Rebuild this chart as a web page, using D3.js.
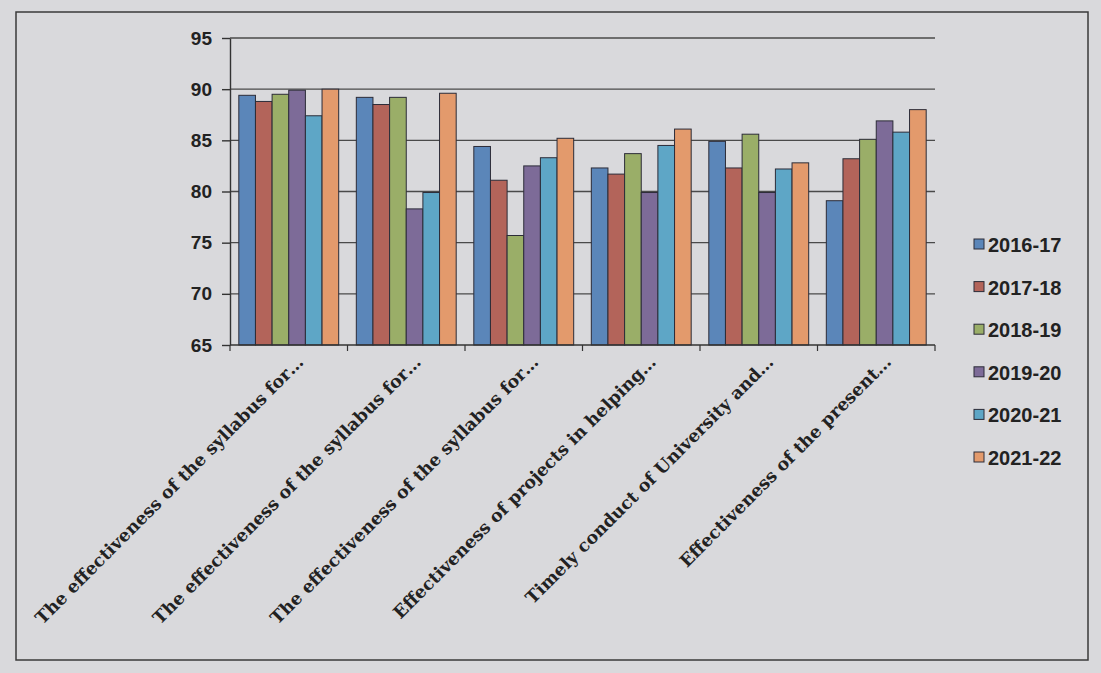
<!DOCTYPE html>
<html>
<head>
<meta charset="utf-8">
<script src="https://cdn.jsdelivr.net/npm/d3@7"></script>
<style>
  html, body { margin: 0; padding: 0; background: #d9d9dc; }
  svg { display: block; }
</style>
</head>
<body>
<div id="vis"></div>
<script>
// chart data
const categories = [
  "The effectiveness of the syllabus for\u2026",
  "The effectiveness of the syllabus for\u2026",
  "The effectiveness of the syllabus for\u2026",
  "Effectiveness of projects in helping\u2026",
  "Timely conduct of University and\u2026",
  "Effectiveness of the present\u2026"
];
const years = ["2016-17", "2017-18", "2018-19", "2019-20", "2020-21", "2021-22"];
// one array per year, one value per category
const v201617 = [89.4, 89.2, 84.4, 82.3, 84.9, 79.1];
const v201718 = [88.8, 88.5, 81.1, 81.7, 82.3, 83.2];
const v201819 = [89.5, 89.2, 75.7, 83.7, 85.6, 85.1];
const v201920 = [89.9, 78.3, 82.5, 79.9, 79.9, 86.9];
const v202021 = [87.4, 79.9, 83.3, 84.5, 82.2, 85.8];
const v202122 = [90.0, 89.6, 85.2, 86.1, 82.8, 88.0];
const yTicks = [65, 70, 75, 80, 85, 90, 95];

const seriesValues = [v201617, v201718, v201819, v201920, v202021, v202122];
const colors = ["#5b86b9", "#b3645a", "#9aae68", "#7d6b98", "#5ea6c6", "#e39a6c"];

const W = 1101, H = 673;
const margin = { left: 230, right: 166, top: 38, bottom: 328 };

const svg = d3.select('#vis').append('svg')
  .attr('width', W).attr('height', H);

// outer frame of the chart area
svg.append('rect')
  .attr('x', 16).attr('y', 12).attr('width', 1072).attr('height', 648)
  .attr('fill', 'none').attr('stroke', '#3a3a3a').attr('stroke-width', 1.5);

const x0 = d3.scaleBand()
  .domain(d3.range(categories.length))
  .range([margin.left, W - margin.right])
  .paddingInner(0.15).paddingOuter(0.075);

const x1 = d3.scaleBand()
  .domain(years)
  .range([0, x0.bandwidth()]);

const y = d3.scaleLinear()
  .domain([65, 95])
  .range([H - margin.bottom, margin.top]);

const g = svg.append('g');

// gridlines
g.append('g').selectAll('line').data(yTicks.slice(1)).enter().append('line')
  .attr('x1', margin.left).attr('x2', W - margin.right)
  .attr('y1', d => y(d)).attr('y2', d => y(d))
  .attr('stroke', '#4a4a4a').attr('stroke-width', 1.4);

// bars
const rows = categories.map((c, i) => years.map((yr, j) => ({ cat: i, year: yr, value: seriesValues[j][i], color: colors[j] })));

g.append('g').selectAll('g').data(rows).enter().append('g')
  .attr('transform', (d, i) => `translate(${x0(i)},0)`)
  .selectAll('rect').data(d => d).enter().append('rect')
  .attr('x', d => x1(d.year))
  .attr('width', x1.bandwidth())
  .attr('y', d => y(d.value))
  .attr('height', d => y(65) - y(d.value))
  .attr('fill', d => d.color)
  .attr('stroke', '#2c2c38').attr('stroke-width', 1);

// y axis
const yAxis = d3.axisLeft(y).tickValues(yTicks).tickSize(8).tickSizeOuter(0).tickPadding(10);
const ya = svg.append('g').attr('transform', `translate(${margin.left},0)`).call(yAxis);
ya.select('.domain').attr('stroke', '#333').attr('stroke-width', 1.4);
ya.selectAll('.tick line').attr('stroke', '#333').attr('stroke-width', 1.4);
ya.selectAll('.tick text')
  .style('font-family', '"Liberation Sans Narrow", "Liberation Sans", sans-serif')
  .style('font-weight', 'bold').style('font-size', '19px').attr('fill', '#222');

// x axis line and boundary ticks
const bounds = d3.range(categories.length + 1).map(i => margin.left + i * (W - margin.left - margin.right) / categories.length);
svg.append('line')
  .attr('x1', margin.left).attr('x2', W - margin.right)
  .attr('y1', y(65)).attr('y2', y(65))
  .attr('stroke', '#333').attr('stroke-width', 1.6);
svg.append('g').selectAll('line').data(bounds).enter().append('line')
  .attr('x1', d => d).attr('x2', d => d)
  .attr('y1', y(65)).attr('y2', y(65) + 6)
  .attr('stroke', '#333').attr('stroke-width', 1.2);

// category labels, rotated
svg.append('g').selectAll('text').data(categories).enter().append('text')
  .attr('transform', (d, i) => `translate(${x0(i) + x0.bandwidth() / 2 + 16},${y(65) + 18}) rotate(-45)`)
  .attr('text-anchor', 'end')
  .style('font-family', '"DejaVu Serif", "Liberation Serif", serif')
  .style('font-weight', 'bold').style('font-size', '17.5px')
  .attr('fill', '#222')
  .text(d => d);

// legend
const legend = svg.append('g').attr('transform', 'translate(974,245)');
const li = legend.selectAll('g').data(years).enter().append('g')
  .attr('transform', (d, i) => `translate(0,${i * 42.6})`);
li.append('rect')
  .attr('x', 0).attr('y', -6).attr('width', 10).attr('height', 10)
  .attr('fill', (d, i) => colors[i]).attr('stroke', '#2c2c38').attr('stroke-width', 1);
li.append('text')
  .attr('x', 14).attr('y', 0).attr('dy', '0.35em')
  .style('font-family', '"Liberation Sans Narrow", "Liberation Sans", sans-serif')
  .style('font-weight', 'bold').style('font-size', '20px')
  .attr('fill', '#222')
  .text(d => d);
</script>
</body>
</html>
